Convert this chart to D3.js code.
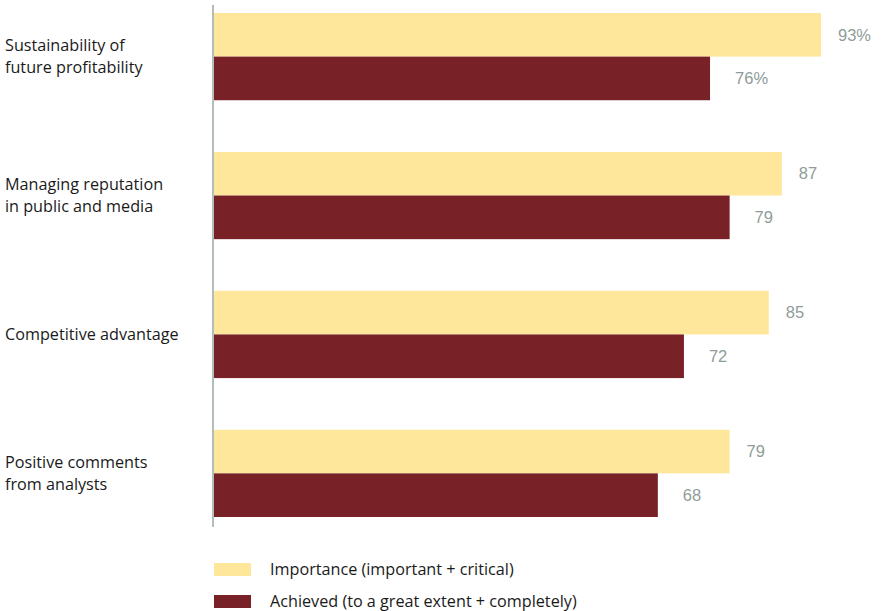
<!DOCTYPE html>
<html>
<head>
<meta charset="utf-8">
<script src="https://cdn.jsdelivr.net/npm/d3@7"></script>
<style>
  body { margin: 0; background: #fff; }
  svg { display: block; }
</style>
</head>
<body>
<svg id="chart" width="883" height="611"></svg>
<script>
// data
var categories = [
  ["Sustainability of", "future profitability"],
  ["Managing reputation", "in public and media"],
  ["Competitive advantage"],
  ["Positive comments", "from analysts"]
];
var importance = [93, 87, 85, 79];
var achieved = [76, 79, 72, 68];
var seriesNames = ["Importance (important + critical)", "Achieved (to a great extent + completely)"];
var seriesColors = ["#fee79b", "#782126"];

var svg = d3.select("#chart");
var width = 883, height = 611;

var x = d3.scaleLinear()
    .domain([0, 100])
    .range([214, 214 + 607 / 93 * 100]);

var y = d3.scaleBand()
    .domain(d3.range(categories.length))
    .range([13, 517])
    .paddingInner(0.372)
    .paddingOuter(0);

var ySub = d3.scaleBand()
    .domain([0, 1])
    .range([0, y.bandwidth()]);

var rows = categories.map(function(c, i) {
  return { label: c, values: [importance[i], achieved[i]] };
});

var group = svg.selectAll("g.row")
    .data(rows)
  .enter().append("g")
    .attr("class", "row")
    .attr("transform", function(d, i) { return "translate(0," + y(i) + ")"; });

group.selectAll("rect")
    .data(function(d) { return d.values; })
  .enter().append("rect")
    .attr("x", x(0))
    .attr("y", function(d, j) { return ySub(j); })
    .attr("width", function(d) { return x(d) - x(0); })
    .attr("height", ySub.bandwidth())
    .attr("fill", function(d, j) { return seriesColors[j]; });

// value labels, first row carries the % sign
group.selectAll("text.val")
    .data(function(d, i) { return d.values.map(function(v) { return { v: v, first: i === 0 }; }); })
  .enter().append("text")
    .attr("class", "val")
    .attr("x", function(d, j) { return x(d.v) + (j === 0 ? 17 : 25); })
    .attr("y", function(d, j) { return ySub(j) + ySub.bandwidth() / 2; })
    .attr("dy", "0.35em")
    .attr("font-family", "Liberation Sans, Arial, sans-serif")
    .attr("font-size", 16.5)
    .attr("fill", "#8f9c98")
    .text(function(d) { return d.v + (d.first ? "%" : ""); });

// category labels
group.append("text")
    .attr("font-family", "Open Sans, sans-serif")
    .attr("font-size", 16.2)
    .attr("fill", "#1a1a1a")
    .each(function(d) {
      var t = d3.select(this);
      var n = d.label.length;
      d.label.forEach(function(line, k) {
        t.append("tspan")
          .attr("x", 5)
          .attr("y", y.bandwidth() / 2 + (k - (n - 1) / 2) * 22)
          .attr("dy", "0.35em")
          .text(line);
      });
    });

// axis line
svg.append("line")
    .attr("x1", 213).attr("x2", 213)
    .attr("y1", 5).attr("y2", 527)
    .attr("stroke", "#9aa8a4")
    .attr("stroke-width", 1.5);

// legend
var legend = svg.selectAll("g.legend")
    .data(seriesNames)
  .enter().append("g")
    .attr("class", "legend")
    .attr("transform", function(d, i) { return "translate(214," + (563 + i * 32) + ")"; });

legend.append("rect")
    .attr("width", 37)
    .attr("height", 13)
    .attr("fill", function(d, i) { return seriesColors[i]; });

legend.append("text")
    .attr("x", 56)
    .attr("y", 6.5)
    .attr("dy", "0.35em")
    .attr("font-family", "Open Sans, sans-serif")
    .attr("font-size", 16.2)
    .attr("fill", "#1a1a1a")
    .text(function(d) { return d; });
</script>
</body>
</html>
